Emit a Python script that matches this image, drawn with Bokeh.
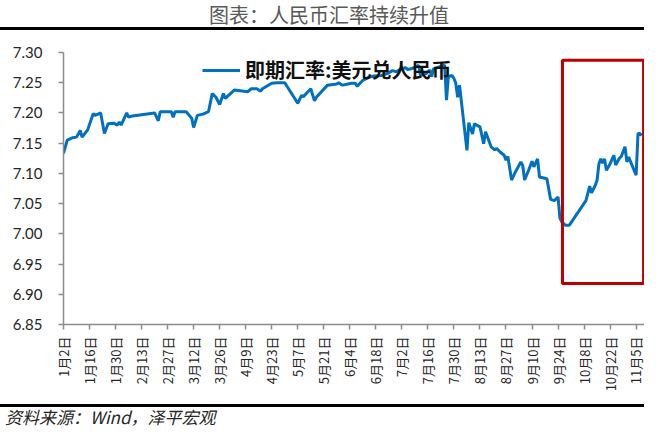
import math
import pandas as pd
from bokeh.plotting import figure
from bokeh.layouts import column
from bokeh.models import (FixedTicker, Range1d, BoxAnnotation, Legend,
                          LegendItem, NumeralTickFormatter, Div)
from bokeh.embed import file_html
from bokeh.resources import INLINE

# ---------------- data ----------------
dates = [
    "2024-01-02", "2024-01-04", "2024-01-07", "2024-01-09", "2024-01-11", "2024-01-12",
    "2024-01-15", "2024-01-18", "2024-01-19", "2024-01-22", "2024-01-24", "2024-01-26",
    "2024-01-29", "2024-01-31", "2024-02-01", "2024-02-02", "2024-02-05", "2024-02-06",
    "2024-02-08", "2024-02-20", "2024-02-22", "2024-02-23", "2024-02-29", "2024-03-01",
    "2024-03-02", "2024-03-08", "2024-03-11", "2024-03-12", "2024-03-14", "2024-03-17",
    "2024-03-20", "2024-03-22", "2024-03-24", "2024-03-26", "2024-03-28", "2024-03-29",
    "2024-04-03", "2024-04-10", "2024-04-12", "2024-04-15", "2024-04-17", "2024-04-18",
    "2024-04-23", "2024-04-26", "2024-04-30", "2024-05-07", "2024-05-09", "2024-05-10",
    "2024-05-14", "2024-05-16", "2024-05-17", "2024-05-23", "2024-05-28", "2024-05-29",
    "2024-05-31", "2024-06-03", "2024-06-05", "2024-06-07", "2024-06-08", "2024-06-11",
    "2024-06-13", "2024-06-14", "2024-06-17", "2024-06-21", "2024-06-24", "2024-06-27",
    "2024-06-29", "2024-07-01", "2024-07-04", "2024-07-05", "2024-07-07", "2024-07-10",
    "2024-07-11", "2024-07-12", "2024-07-15", "2024-07-17", "2024-07-18", "2024-07-19",
    "2024-07-22", "2024-07-25", "2024-07-26", "2024-07-27", "2024-07-29", "2024-07-30",
    "2024-07-31", "2024-08-01", "2024-08-02", "2024-08-06", "2024-08-07", "2024-08-09",
    "2024-08-10", "2024-08-13", "2024-08-15", "2024-08-16", "2024-08-19", "2024-08-21",
    "2024-08-22", "2024-08-24", "2024-08-26", "2024-08-27", "2024-08-28", "2024-08-30",
    "2024-09-01", "2024-09-04", "2024-09-05", "2024-09-06", "2024-09-08", "2024-09-10",
    "2024-09-11", "2024-09-13", "2024-09-14", "2024-09-18", "2024-09-20", "2024-09-22",
    "2024-09-24", "2024-09-25", "2024-09-26", "2024-09-28", "2024-09-30", "2024-10-09",
    "2024-10-11", "2024-10-12", "2024-10-14", "2024-10-15", "2024-10-16", "2024-10-17",
    "2024-10-18", "2024-10-19", "2024-10-20", "2024-10-22", "2024-10-24", "2024-10-25",
    "2024-10-27", "2024-10-28", "2024-10-30", "2024-10-31", "2024-11-01", "2024-11-05",
    "2024-11-06", "2024-11-07", "2024-11-08",
]
usd_cny = [
    7.133, 7.155, 7.159, 7.160, 7.171, 7.160,
    7.172, 7.199, 7.196, 7.200, 7.166, 7.182,
    7.183, 7.180, 7.185, 7.180, 7.200, 7.193,
    7.195, 7.200, 7.187, 7.202, 7.202, 7.193,
    7.202, 7.202, 7.191, 7.176, 7.196, 7.198,
    7.202, 7.232, 7.226, 7.214, 7.232, 7.224,
    7.238, 7.235, 7.240, 7.240, 7.236, 7.240,
    7.249, 7.250, 7.250, 7.216, 7.229, 7.227,
    7.240, 7.220, 7.226, 7.246, 7.248, 7.250,
    7.246, 7.248, 7.249, 7.249, 7.244, 7.254,
    7.257, 7.259, 7.261, 7.262, 7.265, 7.270,
    7.268, 7.272, 7.275, 7.272, 7.273, 7.277,
    7.279, 7.262, 7.265, 7.271, 7.260, 7.273,
    7.276, 7.279, 7.221, 7.260, 7.262, 7.257,
    7.249, 7.226, 7.246, 7.138, 7.184, 7.165,
    7.182, 7.177, 7.149, 7.169, 7.144, 7.139,
    7.141, 7.135, 7.130, 7.122, 7.128, 7.089,
    7.102, 7.119, 7.113, 7.089, 7.104, 7.120,
    7.111, 7.124, 7.094, 7.091, 7.057, 7.055,
    7.061, 7.026, 7.020, 7.014, 7.014, 7.055,
    7.079, 7.068, 7.080, 7.089, 7.116, 7.124,
    7.117, 7.124, 7.105, 7.116, 7.130, 7.114,
    7.125, 7.128, 7.144, 7.119, 7.127, 7.097,
    7.166, 7.166, 7.163,
]
tick_dates = [
    "2024-01-02", "2024-01-16", "2024-01-30", "2024-02-13", "2024-02-27", "2024-03-12",
    "2024-03-26", "2024-04-09", "2024-04-23", "2024-05-07", "2024-05-21", "2024-06-04",
    "2024-06-18", "2024-07-02", "2024-07-16", "2024-07-30", "2024-08-13", "2024-08-27",
    "2024-09-10", "2024-09-24", "2024-10-08", "2024-10-22", "2024-11-05",
]
tick_labels = [
    "1月2日", "1月16日", "1月30日", "2月13日", "2月27日", "3月12日",
    "3月26日", "4月9日", "4月23日", "5月7日", "5月21日", "6月4日",
    "6月18日", "7月2日", "7月16日", "7月30日", "8月13日", "8月27日",
    "9月10日", "9月24日", "10月8日", "10月22日", "11月5日",
]
y_ticks = [6.85, 6.90, 6.95, 7.00, 7.05, 7.10, 7.15, 7.20, 7.25, 7.30]
series_name = "即期汇率:美元兑人民币"
title_text = "图表：人民币汇率持续升值"
source_text = "资料来源：Wind，泽平宏观"
highlight_start = "2024-09-26 09:00"
highlight_end = "2024-11-09 00:00"
highlight_low = 6.918
highlight_high = 7.287
axis_start = "2024-01-02"
axis_end = "2024-11-09 12:00"

# ---------------- helpers ----------------
origin = pd.Timestamp(axis_start)


def day_offset(s):
    return (pd.to_datetime(s) - origin) / pd.Timedelta(days=1)


x = [float(v) for v in day_offset(pd.Series(dates))]
tick_x = [int(round(v)) for v in day_offset(pd.Series(tick_dates))]

W = 644
HDR_H = 36
FTR_H = 31
MAIN_H = 427 - HDR_H - FTR_H
CJK = "Noto Sans CJK SC"

# ---------------- header ----------------
hdr_html = (
    f'<div style="position:relative;width:{W}px;height:{HDR_H}px;">'
    f'<div style="position:absolute;left:14px;top:0;width:{W - 14}px;text-align:center;'
    f"font-family:'{CJK}';font-size:20px;line-height:29px;color:#595959;"
    f'white-space:nowrap;">{title_text}</div>'
    f'<div style="position:absolute;left:0;top:26.5px;width:{W}px;height:3px;'
    f'background:#000;"></div></div>'
)
hdr = Div(text=hdr_html, width=W, height=HDR_H, margin=0)

# ---------------- main chart ----------------
p = figure(width=W, height=MAIN_H, output_backend="svg", toolbar_location=None,
           x_range=Range1d(0, float(day_offset(axis_end))),
           y_range=Range1d(y_ticks[0], y_ticks[-1]),
           min_border_left=63, min_border_right=0, min_border_top=52 - HDR_H,
           min_border_bottom=MAIN_H - (52 - HDR_H) - 272)
p.outline_line_color = None
p.xgrid.visible = False
p.ygrid.visible = False
p.background_fill_color = "white"
p.border_fill_color = "white"

axis_col = "#8c8c8c"
ya = p.yaxis[0]
ya.ticker = FixedTicker(ticks=y_ticks)
ya.formatter = NumeralTickFormatter(format="0.00")
ya.major_label_text_font = "Lato"
ya.major_label_text_font_size = "15px"
ya.major_label_text_color = "#262626"
ya.axis_line_color = axis_col
ya.axis_line_width = 1.5
ya.major_tick_line_color = axis_col
ya.major_tick_line_width = 1.5
ya.major_tick_out = 5
ya.major_tick_in = 0
ya.minor_tick_line_color = None
ya.major_label_standoff = 16

xa = p.xaxis[0]
xa.ticker = FixedTicker(ticks=tick_x)
xa.major_label_overrides = {t: lab for t, lab in zip(tick_x, tick_labels)}
xa.major_label_orientation = math.pi / 2
xa.major_label_text_font = CJK
xa.major_label_text_font_size = "13px"
xa.major_label_text_color = "#262626"
xa.axis_line_color = axis_col
xa.axis_line_width = 1.5
xa.major_tick_line_color = axis_col
xa.major_tick_line_width = 1.5
xa.major_tick_out = 5
xa.major_tick_in = 0
xa.minor_tick_line_color = None
xa.major_label_standoff = 7

r = p.line(x, usd_cny, line_color="#0070C0", line_width=3)

p.add_layout(BoxAnnotation(left=float(day_offset(highlight_start)),
                           right=float(day_offset(highlight_end)),
                           bottom=highlight_low, top=highlight_high,
                           fill_color=None, fill_alpha=0,
                           line_color="#C00000", line_alpha=1, line_width=3))

legend = Legend(items=[LegendItem(label=series_name, renderers=[r])],
                location=(139, 240), padding=0, margin=0, spacing=0,
                label_standoff=5, glyph_width=38, glyph_height=22,
                label_text_font=CJK, label_text_font_size="20px",
                label_text_font_style="bold", label_text_color="#111111",
                border_line_color=None, background_fill_alpha=0)
p.add_layout(legend)

# ---------------- footer ----------------
ftr_html = (
    f'<div style="position:relative;width:{W}px;height:{FTR_H}px;">'
    f'<div style="position:absolute;left:0;top:8px;width:{W}px;height:3px;'
    f'background:#000;"></div>'
    f'<div style="position:absolute;left:5px;top:12px;line-height:17px;'
    f"font-family:'{CJK}';font-size:17px;font-style:italic;color:#262626;"
    f'white-space:nowrap;">{source_text}</div></div>'
)
ftr = Div(text=ftr_html, width=W, height=FTR_H, margin=0)

layout = column(hdr, p, ftr, spacing=0)
open("out.html", "w").write(file_html(layout, INLINE))
